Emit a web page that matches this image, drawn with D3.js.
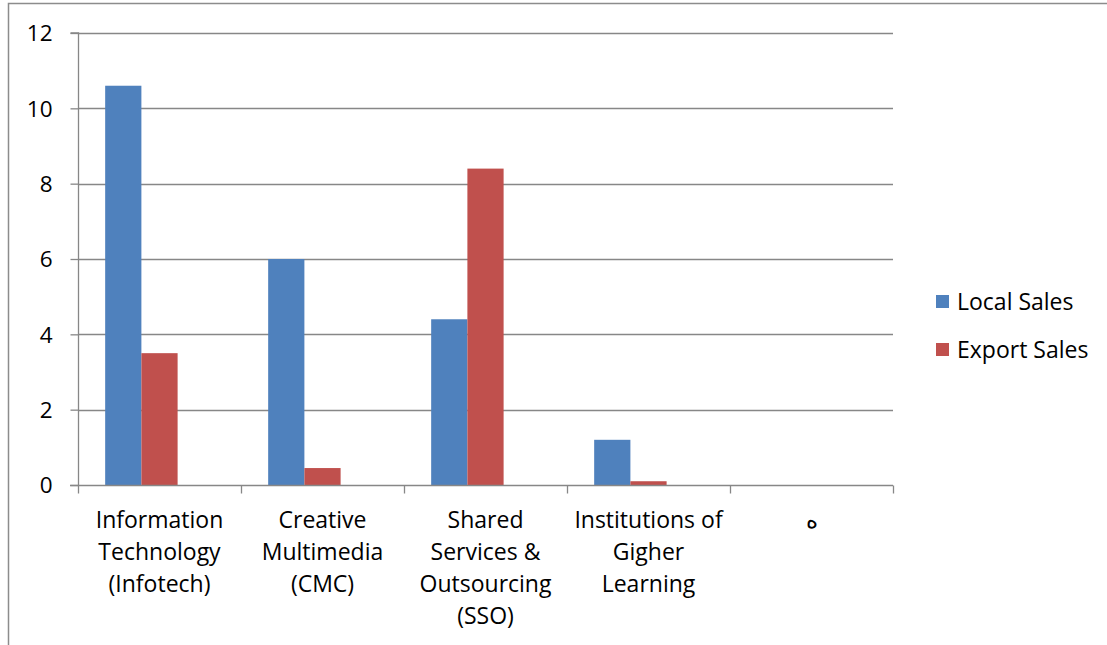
<!DOCTYPE html>
<html><head><meta charset="utf-8">
<script src="https://cdn.jsdelivr.net/npm/d3@7/dist/d3.min.js"></script>
<style>body{margin:0;background:#fff}svg{display:block}text{font-family:"Open Sans","Liberation Sans",sans-serif;fill:#000}</style>
</head><body><svg id="c" width="1107" height="645"></svg>
<script>
const categories = ["Information Technology (Infotech)","Creative Multimedia (CMC)","Shared Services & Outsourcing (SSO)","Institutions of Gigher Learning","ه"];
const categoryLines = [["Information","Technology","(Infotech)"],["Creative","Multimedia","(CMC)"],["Shared","Services &","Outsourcing","(SSO)"],["Institutions of","Gigher","Learning"],["ه"]];
const seriesNames = ["Local Sales","Export Sales"];
const localSales = [10.6, 6.0, 4.4, 1.2, null];
const exportSales = [3.5, 0.45, 8.4, 0.1, null];
const yTicks = [0,2,4,6,8,10,12];
const colors = ["#4F81BD","#C0504D"];
const FONT = 23, TICKFONT = 22.5;

const svg = d3.select("#c");
const L=78,R=893,T=33,B=485;
const x0 = d3.scaleBand().domain(categories).range([L,R]).paddingInner(0).paddingOuter(0);
const x1 = d3.scaleBand().domain([...seriesNames,"(blank)"]).range([0,x0.bandwidth()]).paddingInner(0).paddingOuter(0.75);
const y = d3.scaleLinear().domain([0,12]).range([B,T]);

// outer border
svg.append("path").attr("d","M8.5,645V3.5H1107").attr("fill","none").attr("stroke","#8c8c8c").attr("stroke-width",1.5);

// gridlines
svg.append("g").selectAll("line").data(yTicks.filter(d=>d>0)).join("line")
 .attr("x1",L).attr("x2",R).attr("y1",d=>Math.round(y(d))+0.5).attr("y2",d=>Math.round(y(d))+0.5)
 .attr("stroke","#878787").attr("stroke-width",1.3);

// bars
const series=[localSales,exportSales];
series.forEach((vals,si)=>{
  svg.append("g").selectAll("rect").data(categories.map((c,i)=>({c,v:vals[i]})).filter(d=>d.v!=null)).join("rect")
   .attr("x",d=>x0(d.c)+x1(seriesNames[si])).attr("width",x1.bandwidth())
   .attr("y",d=>y(d.v)).attr("height",d=>B-y(d.v)).attr("fill",colors[si]);
});

// y axis
const ya = svg.append("g").attr("transform",`translate(${L+0.5},0)`)
 .call(d3.axisLeft(y).tickValues(yTicks).tickSize(8).tickPadding(8).tickFormat(d3.format("d")));
ya.select(".domain").attr("stroke","#878787").attr("stroke-width",1.3).attr("d",`M-8,${T}H0V${B}`);
ya.selectAll(".tick line").attr("stroke","#878787").attr("stroke-width",1.3);
ya.selectAll(".tick text").attr("font-size",TICKFONT).attr("font-family","'Open Sans',sans-serif").attr("fill","#000").attr("x",-26).attr("dy","0.35em");

// x axis
const xa = svg.append("g").attr("transform",`translate(0,${B+0.5})`);
xa.append("line").attr("x1",L-8).attr("x2",R).attr("stroke","#878787").attr("stroke-width",1.5);
const bounds = categories.map(c=>x0(c)).concat([R]);
xa.selectAll(".tk").data(bounds).join("line").attr("class","tk")
 .attr("x1",d=>d+0.5).attr("x2",d=>d+0.5).attr("y1",0).attr("y2",8).attr("stroke","#878787").attr("stroke-width",1.3);

// x labels
categories.forEach((c,i)=>{
  const t = svg.append("text").attr("text-anchor","middle").attr("font-size",FONT)
   .attr("transform",`translate(${x0(c)+x0.bandwidth()/2},${B+43})`);
  categoryLines[i].forEach((ln,j)=>{
    t.append("tspan").attr("x",0).attr("y",j*32).text(ln);
  });
});

// legend
const lg = svg.append("g").attr("transform","translate(936,295)");
seriesNames.forEach((s,i)=>{
  const g = lg.append("g").attr("transform",`translate(0,${i*48})`);
  g.append("rect").attr("width",13).attr("height",13).attr("fill",colors[i]);
  g.append("text").attr("x",21).attr("y",7).attr("dy","0.35em").attr("font-size",FONT).text(s);
});
</script></body></html>
